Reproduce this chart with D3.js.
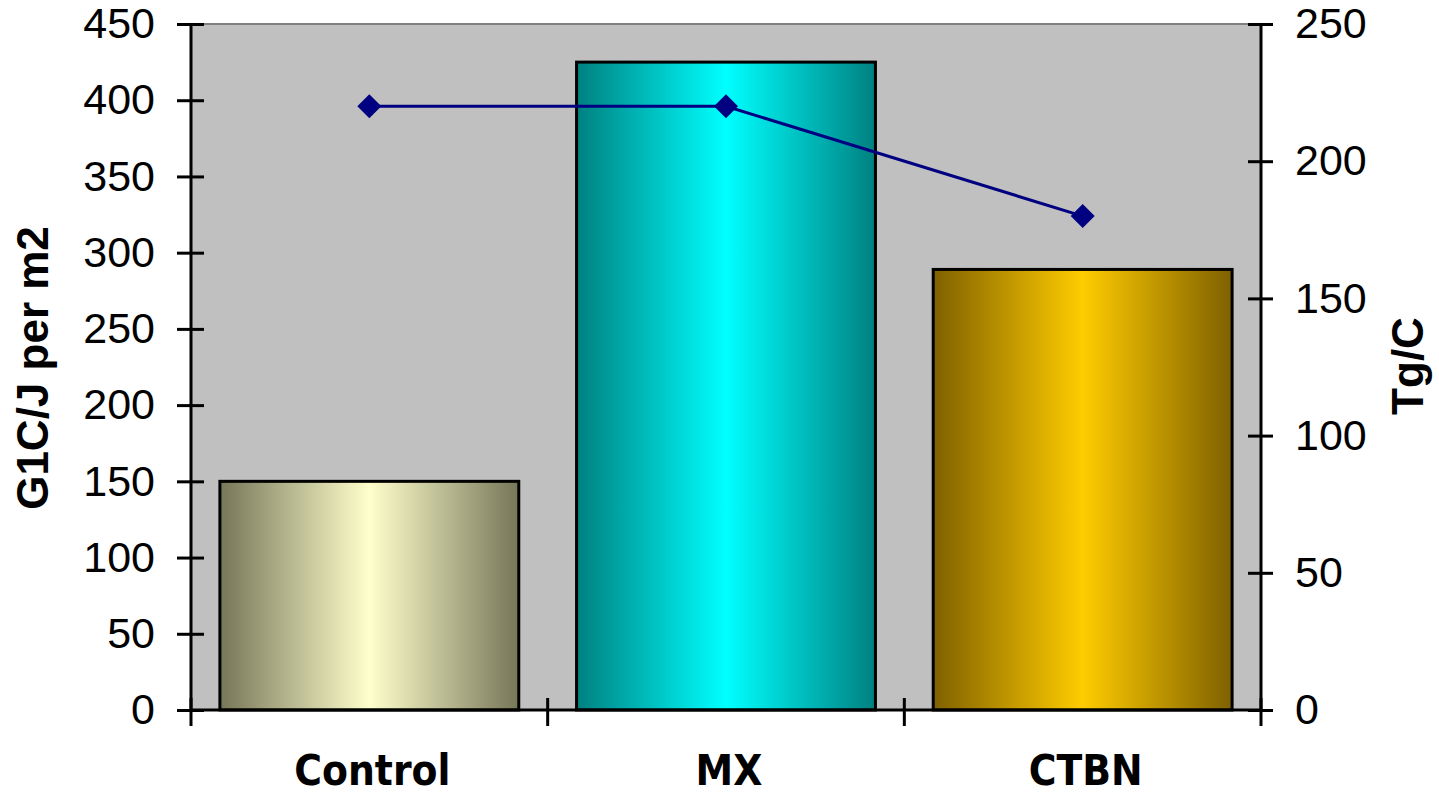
<!DOCTYPE html>
<html>
<head>
<meta charset="utf-8">
<script src="https://cdn.jsdelivr.net/npm/d3@7"></script>
<style>
  html, body { margin: 0; padding: 0; background: #ffffff; }
  svg { display: block; }
</style>
</head>
<body>
<svg id="chart" width="1439" height="795"></svg>
<script>
// Fracture energy (bars, left axis) and glass transition temperature (line, right axis)
const categories = ["Control", "MX", "CTBN"];
const energyValues = [150, 425, 289];   // G1C, J per m2
const tgValues = [220, 220, 180];       // Tg, C
const leftTicks = [0, 50, 100, 150, 200, 250, 300, 350, 400, 450];
const rightTicks = [0, 50, 100, 150, 200, 250];
const barGradients = [
  { dark: "#767659", light: "#ffffcc" },
  { dark: "#008080", light: "#00ffff" },
  { dark: "#7f6000", light: "#ffcc00" }
];

const svg = d3.select("#chart");
const plot = { left: 191, right: 1261, top: 24, bottom: 710 };

const x = d3.scaleBand().domain(categories).range([plot.left, plot.right]).padding(0);
const yLeft = d3.scaleLinear().domain([0, 450]).range([plot.bottom, plot.top]);
const yRight = d3.scaleLinear().domain([0, 250]).range([plot.bottom, plot.top]);

// gradients for the shaded bars
const defs = svg.append("defs");
barGradients.forEach((g, i) => {
  const lg = defs.append("linearGradient").attr("id", "barGrad" + i)
    .attr("x1", "0%").attr("x2", "100%").attr("y1", "0%").attr("y2", "0%");
  lg.append("stop").attr("offset", "0%").attr("stop-color", g.dark);
  lg.append("stop").attr("offset", "50%").attr("stop-color", g.light);
  lg.append("stop").attr("offset", "100%").attr("stop-color", g.dark);
});

// plot area background
svg.append("rect")
  .attr("x", plot.left).attr("y", plot.top)
  .attr("width", plot.right - plot.left).attr("height", plot.bottom - plot.top)
  .attr("fill", "#c0c0c0");
svg.append("line")
  .attr("x1", plot.left).attr("x2", plot.right)
  .attr("y1", plot.top).attr("y2", plot.top)
  .attr("stroke", "#808080").attr("stroke-width", 2);

// bars
const barFrac = 0.838;
const barW = x.bandwidth() * barFrac;
svg.append("g").selectAll("rect")
  .data(categories)
  .join("rect")
  .attr("x", d => x(d) + (x.bandwidth() - barW) / 2)
  .attr("y", (d, i) => yLeft(energyValues[i]))
  .attr("width", barW)
  .attr("height", (d, i) => yLeft(0) - yLeft(energyValues[i]))
  .attr("fill", (d, i) => `url(#barGrad${i})`)
  .attr("stroke", "#000000")
  .attr("stroke-width", 3);

// left axis
const leftAxis = d3.axisLeft(yLeft).tickValues(leftTicks).tickSize(14).tickPadding(22);
const gL = svg.append("g").attr("transform", `translate(${plot.left},0)`).call(leftAxis);
gL.select(".domain").remove();
gL.append("line").attr("x1", 0).attr("x2", 0).attr("y1", plot.top).attr("y2", plot.bottom)
  .attr("stroke", "#000").attr("stroke-width", 3);
gL.selectAll(".tick line").attr("x2", -14).attr("x1", 13).attr("stroke", "#000").attr("stroke-width", 3);
gL.selectAll(".tick text")
  .attr("x", -36)
  .attr("font-family", "'Liberation Sans', Arial, sans-serif")
  .attr("font-size", 43).attr("fill", "#000");

// right axis
const rightAxis = d3.axisRight(yRight).tickValues(rightTicks).tickSize(14).tickPadding(22);
const gR = svg.append("g").attr("transform", `translate(${plot.right},0)`).call(rightAxis);
gR.select(".domain").remove();
gR.append("line").attr("x1", 0).attr("x2", 0).attr("y1", plot.top).attr("y2", plot.bottom)
  .attr("stroke", "#000").attr("stroke-width", 3);
gR.selectAll(".tick line").attr("x1", -13).attr("x2", 12).attr("stroke", "#000").attr("stroke-width", 3);
gR.selectAll(".tick text")
  .attr("x", 34)
  .attr("font-family", "'Liberation Sans', Arial, sans-serif")
  .attr("font-size", 43).attr("fill", "#000");

// category axis
const gB = svg.append("g");
gB.append("line").attr("x1", plot.left).attr("x2", plot.right)
  .attr("y1", plot.bottom).attr("y2", plot.bottom)
  .attr("stroke", "#000").attr("stroke-width", 3);
const boundaries = categories.map(c => x(c)).concat([x(categories[categories.length - 1]) + x.bandwidth()]);
gB.selectAll("line.cat-tick").data(boundaries).join("line")
  .attr("class", "cat-tick")
  .attr("x1", d => d).attr("x2", d => d)
  .attr("y1", plot.bottom - 12).attr("y2", plot.bottom + 16)
  .attr("stroke", "#000").attr("stroke-width", 3);
gB.selectAll("text").data(categories).join("text")
  .attr("x", d => x(d) + x.bandwidth() / 2 + 3)
  .attr("y", 785)
  .attr("text-anchor", "middle")
  .attr("font-family", "'DejaVu Sans Condensed', 'DejaVu Sans', sans-serif")
  .attr("font-stretch", "condensed")
  .attr("font-weight", "bold")
  .attr("font-size", 42)
  .attr("fill", "#000")
  .text(d => d);

// Tg line with diamond markers
const line = d3.line()
  .x((d, i) => x(categories[i]) + x.bandwidth() / 2)
  .y(d => yRight(d));
svg.append("path")
  .datum(tgValues)
  .attr("d", line)
  .attr("fill", "none")
  .attr("stroke", "#000080")
  .attr("stroke-width", 3);
svg.append("g").selectAll("path")
  .data(tgValues)
  .join("path")
  .attr("transform", (d, i) => `translate(${x(categories[i]) + x.bandwidth() / 2},${yRight(d)})`)
  .attr("d", "M0,-12L12,0L0,12L-12,0Z")
  .attr("fill", "#000080");

// axis titles
svg.append("text")
  .attr("transform", `translate(48,368) rotate(-90)`)
  .attr("text-anchor", "middle")
  .attr("font-family", "'Liberation Sans', Arial, sans-serif")
  .attr("font-weight", "bold").attr("font-size", 44).attr("fill", "#000")
  .text("G1C/J per m2");
svg.append("text")
  .attr("transform", `translate(1423,366) rotate(-90)`)
  .attr("text-anchor", "middle")
  .attr("font-family", "'Liberation Sans', Arial, sans-serif")
  .attr("font-weight", "bold").attr("font-size", 44).attr("fill", "#000")
  .text("Tg/C");
</script>
</body>
</html>
